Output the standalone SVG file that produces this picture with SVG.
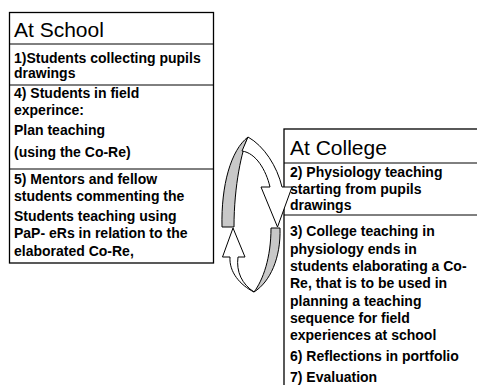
<svg xmlns="http://www.w3.org/2000/svg" width="477" height="385" viewBox="0 0 477 385">
  <style>
    .box { fill: #ffffff; stroke: #000000; stroke-width: 1.3; }
    .sep { stroke: #000000; stroke-width: 1; fill: none; }
    .title { font-family: "Liberation Sans", Arial, sans-serif; font-size: 21px; fill: #000000; }
    .item { font-family: "Liberation Sans", Arial, sans-serif; font-size: 14px; font-weight: bold; fill: #000000; }
    .face { fill: #ffffff; stroke: #000000; stroke-width: 1; stroke-linejoin: miter; }
    .back { fill: #c8c8c8; stroke: #000000; stroke-width: 1; }
  </style>
  <rect width="477" height="385" fill="#ffffff"/>

  <!-- School activities -->
  <g id="school">
    <rect class="box" x="9.5" y="12.5" width="204" height="250.5"/>
    <line class="sep" x1="9.5" y1="44" x2="213.5" y2="44"/>
    <line class="sep" x1="9.5" y1="85" x2="213.5" y2="85"/>
    <line class="sep" x1="9.5" y1="169" x2="213.5" y2="169"/>
    <text class="title" x="14" y="36.5">At School</text>
    <text class="item" x="14" y="63">1)Students collecting pupils</text>
    <text class="item" x="14" y="78">drawings</text>
    <text class="item" x="14" y="98">4) Students in field</text>
    <text class="item" x="14" y="115">experince:</text>
    <text class="item" x="14" y="135">Plan teaching</text>
    <text class="item" x="14" y="157">(using the Co-Re)</text>
    <text class="item" x="14" y="184">5) Mentors and  fellow</text>
    <text class="item" x="14" y="201">students commenting  the</text>
    <text class="item" x="14" y="221">Students teaching using</text>
    <text class="item" x="14" y="238">PaP- eRs in relation to the</text>
    <text class="item" x="14" y="256">elaborated Co-Re,</text>
  </g>

  <!-- College activities -->
  <g id="college">
    <rect class="box" x="284" y="129" width="200" height="270"/>
    <line class="sep" x1="284" y1="163" x2="477" y2="163"/>
    <line class="sep" x1="284" y1="215" x2="477" y2="215"/>
    <text class="title" x="290" y="155">At College</text>
    <text class="item" x="290" y="177">2) Physiology teaching</text>
    <text class="item" x="290" y="193.5">starting from pupils</text>
    <text class="item" x="290" y="210">drawings</text>
    <text class="item" x="290" y="236">3) College teaching in</text>
    <text class="item" x="290" y="253.5">physiology ends in</text>
    <text class="item" x="290" y="271">students elaborating a Co-</text>
    <text class="item" x="290" y="288">Re, that is to be used in</text>
    <text class="item" x="290" y="305.5">planning a teaching</text>
    <text class="item" x="290" y="322.5">sequence for field</text>
    <text class="item" x="290" y="340">experiences at school</text>
    <text class="item" x="290" y="361">6) Reflections in portfolio</text>
    <text class="item" x="290" y="382">7) Evaluation</text>
  </g>

  <!-- Cycle arrows between the two settings -->
  <g id="connectors">
    <!-- upper arrow: school to college -->
    <path class="back" d="M222,227 C221,185 231,150 248,137 C242,150 234,185 234,227 Z"/>
    <path class="face" d="M248,137 C264,146 277,166 282,187 L292,187 L277.5,227 L261,187 L270,187 C266,170 256,153 242,151 Z"/>
    <!-- lower arrow: college to school -->
    <path class="back" d="M280,228 C281,258 270,282 254,292 C263,280 271,258 271,228 Z"/>
    <path class="face" d="M254,292 C242,284 236,272 238,257 L245,257 L233,228 L222.5,257 L230,257 C229,272 240,285 254,292 Z"/>
  </g>
</svg>
